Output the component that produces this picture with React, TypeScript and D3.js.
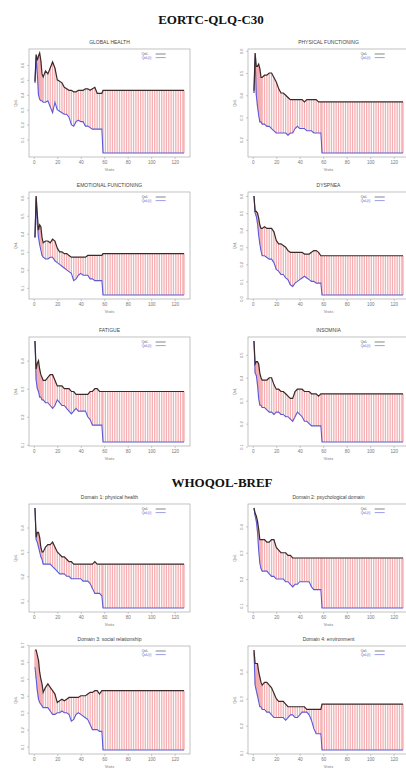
import React, { useEffect, useRef } from 'react';
import * as d3 from 'd3';

// visit grid (early part) and plateau visits
const visits = [1, 2, 3, 4, 5, 6, 7, 8, 10, 12, 14, 16, 18, 20, 22, 24, 26, 28, 30, 32, 34, 36, 38, 40, 42, 44, 46, 48, 50, 52, 54, 56, 58];
const tailVisits = [59, 61, 63, 65, 67, 69, 71, 73, 75, 77, 79, 81, 83, 85, 87, 89, 91, 93, 95, 97, 99, 101, 103, 105, 107, 109, 111, 113, 115, 117, 119, 121, 123, 125, 127, 128];
const xTicks = [0, 20, 40, 60, 80, 100, 120];
const legendLabels = ['QoL', 'QoL(t)'];

// EORTC-QLQ-C30
const globalObs = [0.49, 0.67, 0.63, 0.66, 0.68, 0.63, 0.54, 0.52, 0.56, 0.54, 0.58, 0.62, 0.58, 0.50, 0.49, 0.48, 0.45, 0.44, 0.43, 0.43, 0.42, 0.42, 0.43, 0.43, 0.43, 0.44, 0.44, 0.43, 0.44, 0.45, 0.41, 0.41, 0.41];
const globalFit = [0.48, 0.65, 0.54, 0.40, 0.37, 0.36, 0.36, 0.35, 0.35, 0.36, 0.32, 0.28, 0.35, 0.30, 0.29, 0.28, 0.27, 0.27, 0.25, 0.20, 0.19, 0.22, 0.23, 0.22, 0.22, 0.19, 0.19, 0.18, 0.17, 0.17, 0.17, 0.17, 0.17];
const globalTail = [0.43, 0.01];
const globalTicks = [0.1, 0.2, 0.3, 0.4, 0.5, 0.6];

const physicalObs = [0.42, 0.59, 0.53, 0.53, 0.54, 0.52, 0.48, 0.48, 0.49, 0.49, 0.50, 0.50, 0.48, 0.46, 0.43, 0.41, 0.41, 0.40, 0.39, 0.38, 0.38, 0.38, 0.38, 0.38, 0.38, 0.37, 0.38, 0.38, 0.38, 0.38, 0.38, 0.37, 0.37];
const physicalFit = [0.41, 0.57, 0.40, 0.35, 0.31, 0.28, 0.28, 0.27, 0.27, 0.26, 0.26, 0.25, 0.24, 0.23, 0.23, 0.23, 0.23, 0.23, 0.22, 0.23, 0.23, 0.25, 0.26, 0.25, 0.25, 0.25, 0.24, 0.24, 0.24, 0.23, 0.23, 0.23, 0.23];
const physicalTail = [0.37, 0.14];
const physicalTicks = [0.2, 0.3, 0.4, 0.5, 0.6];

const emotionalObs = [0.38, 0.61, 0.51, 0.42, 0.45, 0.44, 0.38, 0.35, 0.36, 0.36, 0.35, 0.37, 0.36, 0.32, 0.30, 0.30, 0.29, 0.29, 0.28, 0.27, 0.27, 0.27, 0.27, 0.27, 0.27, 0.27, 0.28, 0.28, 0.28, 0.28, 0.28, 0.28, 0.28];
const emotionalFit = [0.38, 0.60, 0.45, 0.38, 0.34, 0.31, 0.28, 0.27, 0.26, 0.26, 0.27, 0.27, 0.25, 0.24, 0.23, 0.22, 0.21, 0.20, 0.19, 0.18, 0.14, 0.15, 0.17, 0.18, 0.17, 0.17, 0.17, 0.15, 0.15, 0.14, 0.14, 0.14, 0.14];
const emotionalTail = [0.29, 0.06];
const emotionalTicks = [0.1, 0.2, 0.3, 0.4, 0.5, 0.6];

const dyspneaObs = [0.60, 0.51, 0.51, 0.50, 0.47, 0.43, 0.41, 0.41, 0.42, 0.41, 0.41, 0.41, 0.39, 0.34, 0.32, 0.32, 0.31, 0.30, 0.28, 0.27, 0.27, 0.27, 0.27, 0.27, 0.27, 0.26, 0.26, 0.26, 0.27, 0.28, 0.28, 0.27, 0.25];
const dyspneaFit = [0.60, 0.50, 0.48, 0.44, 0.37, 0.32, 0.28, 0.25, 0.25, 0.24, 0.23, 0.23, 0.21, 0.17, 0.16, 0.14, 0.14, 0.12, 0.11, 0.08, 0.07, 0.09, 0.10, 0.11, 0.12, 0.13, 0.12, 0.11, 0.10, 0.10, 0.09, 0.09, 0.09];
const dyspneaTail = [0.25, 0.02];
const dyspneaTicks = [0.0, 0.1, 0.2, 0.3, 0.4, 0.5, 0.6];

const fatigueObs = [0.47, 0.37, 0.39, 0.40, 0.37, 0.35, 0.34, 0.33, 0.33, 0.34, 0.35, 0.35, 0.33, 0.31, 0.31, 0.31, 0.30, 0.30, 0.30, 0.29, 0.29, 0.28, 0.28, 0.28, 0.28, 0.28, 0.28, 0.29, 0.29, 0.30, 0.30, 0.29, 0.29];
const fatigueFit = [0.47, 0.33, 0.30, 0.29, 0.27, 0.27, 0.26, 0.26, 0.25, 0.25, 0.24, 0.23, 0.24, 0.26, 0.25, 0.24, 0.24, 0.23, 0.22, 0.21, 0.22, 0.23, 0.22, 0.22, 0.22, 0.22, 0.20, 0.19, 0.17, 0.17, 0.17, 0.17, 0.17];
const fatigueTail = [0.29, 0.11];
const fatigueTicks = [0.1, 0.2, 0.3, 0.4];

const insomniaObs = [0.56, 0.46, 0.47, 0.47, 0.46, 0.42, 0.40, 0.39, 0.39, 0.39, 0.40, 0.40, 0.37, 0.35, 0.35, 0.34, 0.34, 0.33, 0.32, 0.31, 0.31, 0.34, 0.35, 0.35, 0.35, 0.34, 0.34, 0.34, 0.33, 0.33, 0.33, 0.32, 0.33];
const insomniaFit = [0.56, 0.42, 0.41, 0.37, 0.31, 0.28, 0.28, 0.27, 0.27, 0.26, 0.25, 0.25, 0.24, 0.25, 0.25, 0.24, 0.24, 0.23, 0.23, 0.22, 0.21, 0.23, 0.25, 0.24, 0.23, 0.21, 0.21, 0.20, 0.19, 0.19, 0.19, 0.19, 0.19];
const insomniaTail = [0.33, 0.12];
const insomniaTicks = [0.1, 0.2, 0.3, 0.4, 0.5];

// WHOQOL-BREF
const domain1Obs = [0.48, 0.36, 0.38, 0.38, 0.36, 0.32, 0.30, 0.30, 0.32, 0.33, 0.33, 0.34, 0.32, 0.30, 0.29, 0.28, 0.28, 0.27, 0.26, 0.26, 0.25, 0.25, 0.25, 0.25, 0.25, 0.25, 0.25, 0.25, 0.25, 0.26, 0.25, 0.25, 0.25];
const domain1Fit = [0.48, 0.35, 0.34, 0.32, 0.30, 0.28, 0.27, 0.25, 0.25, 0.25, 0.25, 0.24, 0.23, 0.22, 0.21, 0.21, 0.21, 0.20, 0.20, 0.19, 0.19, 0.19, 0.19, 0.19, 0.18, 0.18, 0.18, 0.17, 0.15, 0.13, 0.13, 0.13, 0.12];
const domain1Tail = [0.25, 0.07];
const domain1Ticks = [0.1, 0.2, 0.3, 0.4];

const domain2Obs = [0.47, 0.45, 0.44, 0.42, 0.39, 0.35, 0.35, 0.35, 0.35, 0.34, 0.34, 0.35, 0.35, 0.32, 0.31, 0.30, 0.30, 0.30, 0.29, 0.29, 0.28, 0.28, 0.28, 0.28, 0.28, 0.28, 0.28, 0.28, 0.28, 0.28, 0.28, 0.28, 0.28];
const domain2Fit = [0.47, 0.44, 0.42, 0.38, 0.31, 0.26, 0.24, 0.23, 0.23, 0.23, 0.22, 0.21, 0.21, 0.20, 0.20, 0.20, 0.20, 0.19, 0.19, 0.18, 0.17, 0.18, 0.18, 0.19, 0.19, 0.19, 0.19, 0.19, 0.17, 0.16, 0.16, 0.16, 0.16];
const domain2Tail = [0.28, 0.09];
const domain2Ticks = [0.1, 0.2, 0.3, 0.4];

const domain3Obs = [0.67, 0.67, 0.64, 0.61, 0.54, 0.50, 0.47, 0.42, 0.45, 0.47, 0.45, 0.43, 0.41, 0.36, 0.37, 0.38, 0.37, 0.38, 0.39, 0.39, 0.39, 0.39, 0.39, 0.40, 0.40, 0.40, 0.41, 0.42, 0.42, 0.43, 0.43, 0.41, 0.43];
const domain3Fit = [0.57, 0.50, 0.43, 0.38, 0.36, 0.35, 0.34, 0.33, 0.33, 0.33, 0.31, 0.29, 0.29, 0.30, 0.30, 0.31, 0.30, 0.30, 0.29, 0.25, 0.26, 0.29, 0.30, 0.29, 0.28, 0.27, 0.26, 0.23, 0.20, 0.20, 0.20, 0.19, 0.19];
const domain3Tail = [0.43, 0.08];
const domain3Ticks = [0.1, 0.2, 0.3, 0.4, 0.5, 0.6, 0.7];

const domain4Obs = [0.48, 0.43, 0.43, 0.43, 0.40, 0.38, 0.36, 0.35, 0.36, 0.36, 0.35, 0.34, 0.32, 0.30, 0.29, 0.29, 0.29, 0.28, 0.27, 0.27, 0.27, 0.27, 0.27, 0.27, 0.27, 0.27, 0.26, 0.26, 0.26, 0.26, 0.26, 0.26, 0.26];
const domain4Fit = [0.47, 0.35, 0.33, 0.31, 0.29, 0.27, 0.27, 0.26, 0.26, 0.25, 0.25, 0.24, 0.23, 0.23, 0.23, 0.23, 0.23, 0.22, 0.23, 0.24, 0.24, 0.23, 0.23, 0.24, 0.25, 0.25, 0.25, 0.24, 0.22, 0.19, 0.17, 0.17, 0.17];
const domain4Tail = [0.28, 0.11];
const domain4Ticks = [0.1, 0.2, 0.3, 0.4];

interface Panel {
  title: string;
  obs: number[];
  fit: number[];
  tail: number[];
  ticks: number[];
}

const panels: Panel[] = [
  { title: 'GLOBAL HEALTH', obs: globalObs, fit: globalFit, tail: globalTail, ticks: globalTicks },
  { title: 'PHYSICAL FUNCTIONING', obs: physicalObs, fit: physicalFit, tail: physicalTail, ticks: physicalTicks },
  { title: 'EMOTIONAL FUNCTIONING', obs: emotionalObs, fit: emotionalFit, tail: emotionalTail, ticks: emotionalTicks },
  { title: 'DYSPNEA', obs: dyspneaObs, fit: dyspneaFit, tail: dyspneaTail, ticks: dyspneaTicks },
  { title: 'FATIGUE', obs: fatigueObs, fit: fatigueFit, tail: fatigueTail, ticks: fatigueTicks },
  { title: 'INSOMNIA', obs: insomniaObs, fit: insomniaFit, tail: insomniaTail, ticks: insomniaTicks },
  { title: 'Domain 1: physical health', obs: domain1Obs, fit: domain1Fit, tail: domain1Tail, ticks: domain1Ticks },
  { title: 'Domain 2: psychological domain', obs: domain2Obs, fit: domain2Fit, tail: domain2Tail, ticks: domain2Ticks },
  { title: 'Domain 3: social relationship', obs: domain3Obs, fit: domain3Fit, tail: domain3Tail, ticks: domain3Ticks },
  { title: 'Domain 4: environment', obs: domain4Obs, fit: domain4Fit, tail: domain4Tail, ticks: domain4Ticks },
];

const WIDTH = 406;
const HEIGHT = 769;
const colX = [29, 248];
const rowY = [49, 192, 337, 504, 646];
const rowH = [108, 107, 109, 108, 108];
const boxW = 161;

const App = () => {
  const ref = useRef<SVGSVGElement>(null);

  useEffect(() => {
    const svg = d3.select(ref.current);
    svg.selectAll('*').remove();

    svg.append('rect').attr('width', WIDTH).attr('height', HEIGHT).attr('fill', '#fff');

    // section headings
    const heading = (txt: string, x: number, y: number) =>
      svg.append('text')
        .attr('x', x).attr('y', y)
        .attr('text-anchor', 'middle')
        .attr('font-family', '"Liberation Serif", "Times New Roman", serif')
        .attr('font-weight', 'bold')
        .attr('font-size', 13)
        .attr('fill', '#111')
        .text(txt);
    heading('EORTC-QLQ-C30', 211, 24);
    heading('WHOQOL-BREF', 222, 487);

    const span = 128 - 1;

    panels.forEach((p, k) => {
      const x0 = colX[k % 2];
      const y0 = rowY[Math.floor(k / 2)];
      const h = rowH[Math.floor(k / 2)];
      const w = boxW;

      const x = d3.scaleLinear()
        .domain([1 - 0.04 * span, 128 + 0.04 * span])
        .range([x0, x0 + w]);
      const all = [...p.obs, ...p.fit, ...p.tail];
      const lo = d3.min(all)!;
      const hi = d3.max(all)!;
      const pad = (hi - lo) * 0.04;
      const y = d3.scaleLinear().domain([lo - pad, hi + pad]).range([y0 + h, y0]);

      const g = svg.append('g');

      // title
      g.append('text')
        .attr('x', x0 + w / 2)
        .attr('y', y0 - 5)
        .attr('text-anchor', 'middle')
        .attr('font-family', '"Liberation Sans", Arial, sans-serif')
        .attr('font-size', 5)
        .attr('fill', '#444')
        .text(p.title);

      // vertical drop lines between the two curves
      const drops = visits.map((v, i) => ({ v, a: p.fit[i], b: p.obs[i] }))
        .concat(tailVisits.map(v => ({ v, a: p.tail[1], b: p.tail[0] })));
      g.selectAll('.drop')
        .data(drops)
        .enter()
        .append('line')
        .attr('x1', d => x(d.v))
        .attr('x2', d => x(d.v))
        .attr('y1', d => y(d.a))
        .attr('y2', d => y(d.b))
        .attr('stroke', '#ee7a7e')
        .attr('stroke-opacity', 0.6)
        .attr('stroke-width', 1.3);

      const line = d3.line<[number, number]>().x(d => x(d[0])).y(d => y(d[1]));
      const last = tailVisits[tailVisits.length - 1];
      const fitPts: [number, number][] = visits.map((v, i) => [v, p.fit[i]] as [number, number])
        .concat([[tailVisits[0], p.tail[1]], [last, p.tail[1]]]);
      const obsPts: [number, number][] = visits.map((v, i) => [v, p.obs[i]] as [number, number])
        .concat([[tailVisits[0], p.tail[0]], [last, p.tail[0]]]);

      g.append('path')
        .attr('d', line(fitPts))
        .attr('fill', 'none')
        .attr('stroke', '#5a5ad8')
        .attr('stroke-width', 1.1);
      g.append('path')
        .attr('d', line(obsPts))
        .attr('fill', 'none')
        .attr('stroke', '#3a2a2a')
        .attr('stroke-width', 1.2);

      // box
      g.append('rect')
        .attr('x', x0).attr('y', y0)
        .attr('width', w).attr('height', h)
        .attr('fill', 'none')
        .attr('stroke', '#999')
        .attr('stroke-width', 0.6);

      // x axis
      const xa = g.append('g')
        .attr('transform', `translate(0,${y0 + h})`)
        .call(d3.axisBottom(x).tickValues(xTicks).tickSize(2).tickPadding(2).tickFormat(d3.format('d')));
      xa.select('.domain').remove();
      xa.selectAll('line').attr('stroke', '#999').attr('stroke-width', 0.5);
      xa.selectAll('text')
        .attr('font-size', 4.5)
        .attr('font-family', '"Liberation Sans", Arial, sans-serif')
        .attr('fill', '#777');

      g.append('text')
        .attr('x', x0 + w / 2)
        .attr('y', y0 + h + 13.5)
        .attr('text-anchor', 'middle')
        .attr('font-family', '"Liberation Sans", Arial, sans-serif')
        .attr('font-size', 4)
        .attr('fill', '#777')
        .text('Visits');

      // y axis
      const ya = g.append('g')
        .attr('transform', `translate(${x0},0)`)
        .call(d3.axisLeft(y).tickValues(p.ticks).tickSize(2).tickFormat(d3.format('.1f')));
      ya.select('.domain').remove();
      ya.selectAll('line').attr('stroke', '#999').attr('stroke-width', 0.5);
      ya.selectAll('text')
        .attr('font-size', 4)
        .attr('font-family', '"Liberation Sans", Arial, sans-serif')
        .attr('fill', '#777')
        .attr('text-anchor', 'middle')
        .attr('x', 0)
        .attr('dy', 0)
        .attr('transform', 'translate(-5,0) rotate(-90)');

      g.append('text')
        .attr('transform', `translate(${x0 - 12},${y0 + h / 2}) rotate(-90)`)
        .attr('text-anchor', 'middle')
        .attr('font-family', '"Liberation Sans", Arial, sans-serif')
        .attr('font-size', 4)
        .attr('fill', '#777')
        .text('QoL');

      // legend
      const lg = g.append('g').attr('transform', `translate(${x0 + w * 0.7},${y0 + 6})`);
      legendLabels.forEach((lab, i) => {
        lg.append('text')
          .attr('x', 0).attr('y', i * 3.6)
          .attr('font-size', 3.4)
          .attr('font-family', '"Liberation Sans", Arial, sans-serif')
          .attr('fill', i === 0 ? '#555' : '#5a5ad8')
          .text(lab);
        lg.append('line')
          .attr('x1', 14).attr('x2', 24)
          .attr('y1', i * 3.6 - 1).attr('y2', i * 3.6 - 1)
          .attr('stroke', i === 0 ? '#333' : '#5a5ad8')
          .attr('stroke-width', 0.6);
      });
    });
  }, []);

  return (
    <svg
      ref={ref}
      width={WIDTH}
      height={HEIGHT}
      style={{ position: 'absolute', left: 0, top: 0 }}
    />
  );
};

export default App;
